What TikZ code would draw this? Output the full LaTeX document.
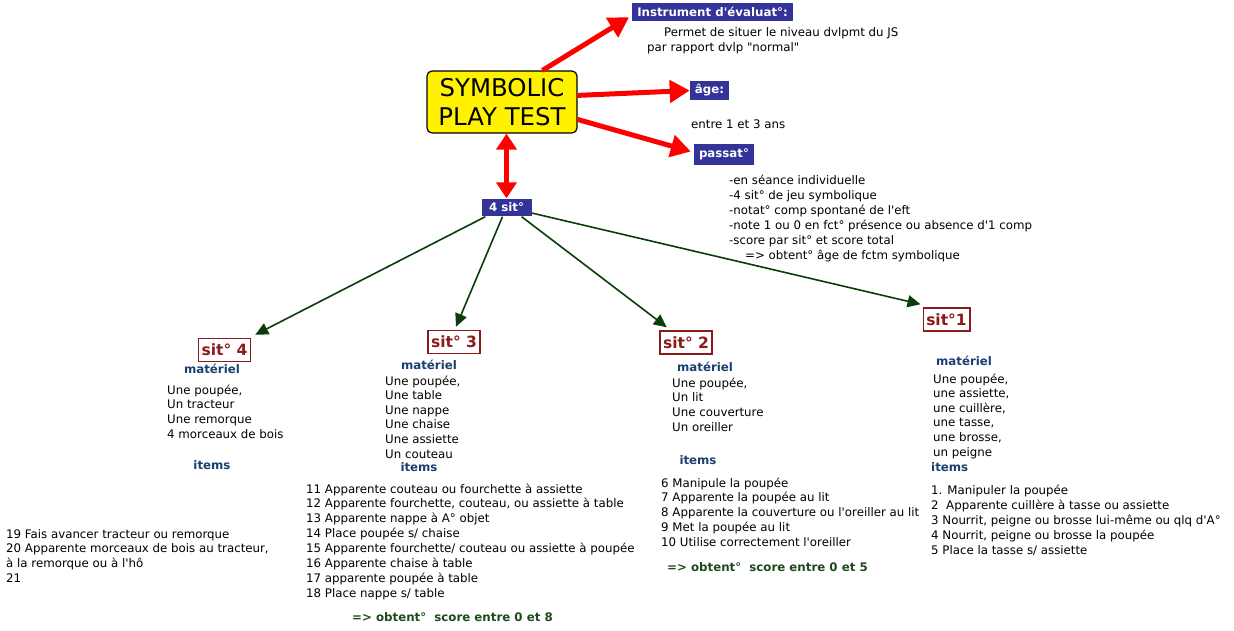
\documentclass[tikz,border=0pt]{standalone}
\usepackage{fontspec}
\newfontfamily\vf{DejaVu Sans}
\usetikzlibrary{arrows.meta,calc}
\definecolor{boxblue}{HTML}{333399}
\definecolor{sitred}{HTML}{8B1A1A}
\definecolor{headblue}{HTML}{1B3F73}
\definecolor{okgreen}{HTML}{1E4A1E}
\definecolor{arrgreen}{HTML}{0B3D0B}
\tikzset{
  body/.style={inner sep=0pt, anchor=base west, font=\vf\fontsize{11.8}{14}\selectfont, text=black},
  head/.style={inner sep=0pt, anchor=base, font=\vf\bfseries\fontsize{11.8}{14}\selectfont, text=headblue},
  result/.style={inner sep=0pt, anchor=base west, font=\vf\bfseries\fontsize{11.8}{14}\selectfont, text=okgreen},
  mainbox/.style={draw=black, line width=1.2pt, fill=yellow, rounded corners=5pt, minimum width=150pt, minimum height=62pt, align=center, font=\vf\fontsize{24.4}{29}\selectfont, inner sep=0pt},
  bluebox/.style={fill=boxblue, text=white, font=\vf\bfseries\fontsize{11.8}{14}\selectfont, inner xsep=5pt, inner ysep=0pt},
  sitbox/.style={draw=sitred, line width=1.5pt, fill=white, text=sitred, font=\vf\bfseries\fontsize{15.5}{18}\selectfont, inner xsep=3pt, inner ysep=0pt, minimum height=23pt},
  redarrow/.style={draw=red, line width=5pt, -{Triangle[length=20pt,width=22pt]}},
  reddouble/.style={draw=red, line width=5pt, {Triangle[length=16pt,width=20pt]}-{Triangle[length=16pt,width=20pt]}},
  greenarrow/.style={draw=arrgreen, line width=1.6pt, -{Triangle[length=13pt,width=12pt]}}
}
\newcommand\mylines[5]{%
  \foreach \t [count=\i from 0] in {#5} {\node[body, name=#1-\i] at (#2, {#3+\i*#4}) {\t};}%
}
\begin{document}
\begin{tikzpicture}[x=1pt,y=-1pt]
\useasboundingbox (0,0) rectangle (1234,630);
\fill[white] (0,0) rectangle (1234,630);

% main and top-level boxes
\node[mainbox] (main) at (502,102) {SYMBOLIC\\PLAY TEST};
\node[bluebox, minimum height=18pt] (instr) at (712.5,12) {Instrument d'évaluat°:};
\node[bluebox, minimum height=19pt] (age) at (709.5,90.5) {âge:};
\node[bluebox, minimum height=21pt] (passat) at (724,154.5) {passat°};
\node[bluebox, minimum height=17pt, minimum width=50pt] (four) at (506.5,207) {4 sit°};

\node[body] (permet1) at (664,36) {Permet de situer le niveau dvlpmt du JS};
\node[body] (permet2) at (647,51) {par rapport dvlp "normal"};
\node[body] (entre) at (691,128) {entre 1 et 3 ans};
\mylines{pas}{729}{184}{15}{-en séance individuelle,-4 sit° de jeu symbolique,-notat° comp spontané de l'eft,-note 1 ou 0 en fct° présence ou absence d'1 comp,-score par sit° et score total}
\node[body] (pasres) at (745,259) {=> obtent° âge de fctm symbolique};

% red arrows
\draw[redarrow] (main.38) -- ($(instr.south west)+(-3,-4)$);
\draw[redarrow] (main.5) -- (age.west);
\draw[redarrow] (main.-13) -- ($(passat.west)+(-3,-3)$);
\draw[reddouble] (main.south -| four.north) -- (four.north);

% situation boxes
\node[sitbox] (s4) at (224.5,350) {sit° 4};
\node[sitbox] (s3) at (454,342) {sit° 3};
\node[sitbox] (s2) at (686,342.5) {sit° 2};
\node[sitbox] (s1) at (946.5,319.5) {sit°1};

% green arrows
\draw[greenarrow] ($(four.south west)+(4,1)$) -- ($(s4.north east)+(4,-3)$);
\draw[greenarrow] ($(four.south west)!0.42!(four.south east)+(0,1)$) -- ($(s3.north)+(2,-3)$);
\draw[greenarrow] ($(four.south west)!0.8!(four.south east)+(0,1)$) -- ($(s2.north west)!0.14!(s2.north east)+(0,-3)$);
\draw[greenarrow] ($(four.east)+(0,6)$) -- ($(s1.north west)+(-2,-3)$);

% sit 4
\node[head] (s4mat) at (212,373) {matériel};
\mylines{s4m}{167}{394}{14.7}{{Une poupée,},Un tracteur,Une remorque,4 morceaux de bois}
\node[head] (s4it) at (212,469) {items};
\mylines{s4i}{6}{538}{14.7}{19 Fais avancer tracteur ou remorque,{20 Apparente morceaux de bois au tracteur,},à la remorque ou à l'hô,21}

% sit 3
\node[head] (s3mat) at (429,369) {matériel};
\mylines{s3m}{385}{385}{14.6}{{Une poupée,},Une table,Une nappe,Une chaise,Une assiette,Un couteau}
\node[head] (s3it) at (419,471) {items};
\mylines{s3i}{306}{493}{14.86}{11 Apparente couteau ou fourchette à assiette,{12 Apparente fourchette, couteau, ou assiette à table},13 Apparente nappe à A° objet,14 Place poupée s/ chaise,15 Apparente fourchette/ couteau ou assiette à poupée,16 Apparente chaise à table,17 apparente poupée à table,18 Place nappe s/ table}
\node[result] (s3res) at (352,621) {=> obtent°~ score entre 0 et 8};

% sit 2
\node[head] (s2mat) at (705,371) {matériel};
\mylines{s2m}{672}{387}{14.7}{{Une poupée,},Un lit,Une couverture,Un oreiller}
\node[head] (s2it) at (698,464) {items};
\mylines{s2i}{661}{487}{14.75}{6 Manipule la poupée,7 Apparente la poupée au lit,8 Apparente la couverture ou l'oreiller au lit,9 Met la poupée au lit,10 Utilise correctement l'oreiller}
\node[result] (s2res) at (667,571) {=> obtent°~ score entre 0 et 5};

% sit 1
\node[head] (s1mat) at (964,365) {matériel};
\mylines{s1m}{933}{383}{14.6}{{Une poupée,},{une assiette,},{une cuillère,},{une tasse,},{une brosse,},un peigne}
\node[head, anchor=base west] (s1it) at (931,471) {items};
\mylines{s1i}{931}{494}{15}{1. Manipuler la poupée,2~ Apparente cuillère à tasse ou assiette,3 Nourrit{,} peigne ou brosse lui-même ou qlq d'A°,4 Nourrit{,} peigne ou brosse la poupée,5 Place la tasse s/ assiette}
\end{tikzpicture}
\end{document}
